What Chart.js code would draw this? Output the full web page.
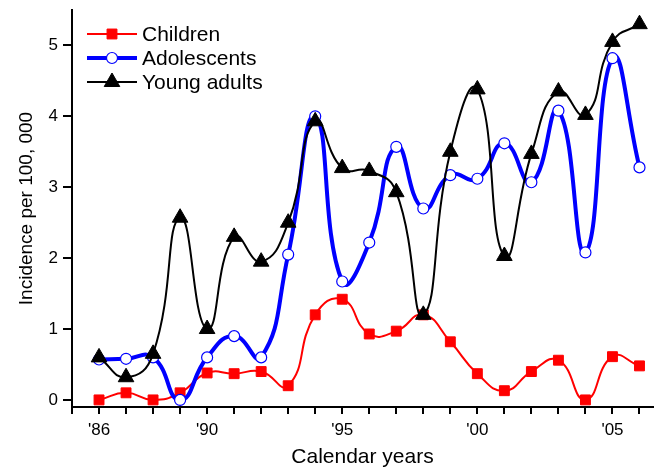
<!DOCTYPE html>
<html>
<head>
<meta charset="utf-8">
<script src="https://cdn.jsdelivr.net/npm/chart.js@4"></script>
<style>
  html, body { margin: 0; padding: 0; background: #fff; }
  #chart { display: block; }
</style>
</head>
<body>
<canvas id="chart" width="663" height="470"></canvas>
<script>
// Data
const years = [1986, 1987, 1988, 1989, 1990, 1991, 1992, 1993, 1994, 1995, 1996,
               1997, 1998, 1999, 2000, 2001, 2002, 2003, 2004, 2005, 2006];
const children = [0, 0.1, 0, 0.1, 0.38, 0.37, 0.4, 0.2, 1.2, 1.42, 0.93,
                  0.97, 1.2, 0.82, 0.37, 0.13, 0.4, 0.56, 0, 0.61, 0.48];
const adolescents = [0.57, 0.58, 0.6, 0, 0.6, 0.9, 0.6, 2.05, 4.0, 1.67, 2.22,
                     3.57, 2.7, 3.17, 3.12, 3.62, 3.07, 4.08, 2.08, 4.82, 3.28];
const youngAdults = [0.6, 0.32, 0.65, 2.57, 1.0, 2.3, 1.95, 2.5, 3.93, 3.27, 3.23,
                     2.93, 1.2, 3.5, 4.38, 2.03, 3.47, 4.35, 4.02, 5.05, 5.3];

const xTickYears = [1985, 1986, 1987, 1988, 1989, 1990, 1991, 1992, 1993, 1994, 1995, 1996,
                    1997, 1998, 1999, 2000, 2001, 2002, 2003, 2004, 2005, 2006];
const xTickLabels = { 1986: "'86", 1990: "'90", 1995: "'95", 2000: "'00", 2005: "'05" };
const yTicks = [0, 1, 2, 3, 4, 5];

const FONT = "'Liberation Sans', Arial, sans-serif";

function toPoints(arr) {
    return years.map((yr, i) => ({ x: yr, y: arr[i] }));
}

const series = [
    { label: 'Young adults', data: youngAdults, color: '#000000', width: 2, style: 'triangle', radius: 9, fill: '#000000' },
    { label: 'Adolescents', data: adolescents, color: '#0000ff', width: 4, style: 'circle', radius: 5.5, fill: '#ffffff' },
    { label: 'Children', data: children, color: '#ff0000', width: 2, style: 'rect', radius: 7, fill: '#ff0000' }
];

// legend drawn inside the plot, top left
const legendItems = [
    { idx: 2, y: 34 },
    { idx: 1, y: 58 },
    { idx: 0, y: 82 }
];

const insideLegend = {
    id: 'insideLegend',
    afterDraw(chart) {
        const ctx = chart.ctx;
        ctx.save();
        legendItems.forEach(item => {
            const s = series[item.idx];
            ctx.strokeStyle = s.color;
            ctx.lineWidth = s.width;
            ctx.beginPath();
            ctx.moveTo(87, item.y);
            ctx.lineTo(137, item.y);
            ctx.stroke();
            ctx.fillStyle = s.fill;
            ctx.strokeStyle = s.color;
            ctx.lineWidth = s.style === 'circle' ? 1.2 : 1;
            Chart.helpers.drawPoint(ctx, { pointStyle: s.style, radius: s.radius, rotation: 0, borderWidth: ctx.lineWidth }, 112, item.y);
            ctx.fillStyle = '#000';
            ctx.font = '21px ' + FONT;
            ctx.textBaseline = 'middle';
            ctx.textAlign = 'left';
            ctx.fillText(s.label, 142, item.y + 1);
        });
        ctx.restore();
    }
};

const ctx = document.getElementById('chart').getContext('2d');
new Chart(ctx, {
    type: 'line',
    data: {
        datasets: series.map(s => ({
            label: s.label,
            data: toPoints(s.data),
            borderColor: s.color,
            borderWidth: s.width,
            backgroundColor: s.fill,
            pointStyle: s.style,
            pointRadius: s.radius,
            pointBackgroundColor: s.fill,
            pointBorderColor: s.color,
            pointBorderWidth: s.style === 'circle' ? 1.2 : 1,
            tension: 0.5,
            fill: false,
            clip: 12
        }))
    },
    options: {
        responsive: false,
        animation: false,
        layout: { padding: { top: 7, right: 3, left: 0, bottom: 0 } },
        plugins: {
            legend: { display: false },
            tooltip: { enabled: false }
        },
        scales: {
            x: {
                type: 'linear',
                min: 1985,
                max: 2006.5,
                afterBuildTicks: axis => { axis.ticks = xTickYears.map(v => ({ value: v })); },
                afterFit: axis => {
                    axis.height = 63;
                    axis.paddingLeft = 0;
                    axis.paddingRight = 0;
                },
                grid: { drawOnChartArea: false, drawTicks: true, tickLength: 7, color: '#000', lineWidth: 2 },
                border: { color: '#000', width: 2 },
                ticks: {
                    autoSkip: false,
                    maxRotation: 0,
                    padding: 6,
                    color: '#000',
                    font: { family: FONT, size: 17 },
                    callback: v => xTickLabels[v] || ''
                },
                title: {
                    display: true,
                    text: 'Calendar years',
                    color: '#000',
                    font: { family: FONT, size: 21 },
                    padding: { top: 0, bottom: 0 }
                }
            },
            y: {
                min: -0.1,
                max: 5.5,
                afterBuildTicks: axis => { axis.ticks = yTicks.map(v => ({ value: v })); },
                afterFit: axis => {
                    axis.width = 72;
                    axis.paddingTop = 0;
                    axis.paddingBottom = 0;
                },
                grid: { drawOnChartArea: false, drawTicks: true, tickLength: 9, color: '#000', lineWidth: 2 },
                border: { color: '#000', width: 2 },
                ticks: {
                    padding: 5,
                    color: '#000',
                    font: { family: FONT, size: 17 }
                },
                title: {
                    display: true,
                    text: 'Incidence per 100, 000',
                    color: '#000',
                    font: { family: FONT, size: 19 },
                    padding: { top: 15, bottom: 0 }
                }
            }
        }
    },
    plugins: [insideLegend]
});
</script>
</body>
</html>
